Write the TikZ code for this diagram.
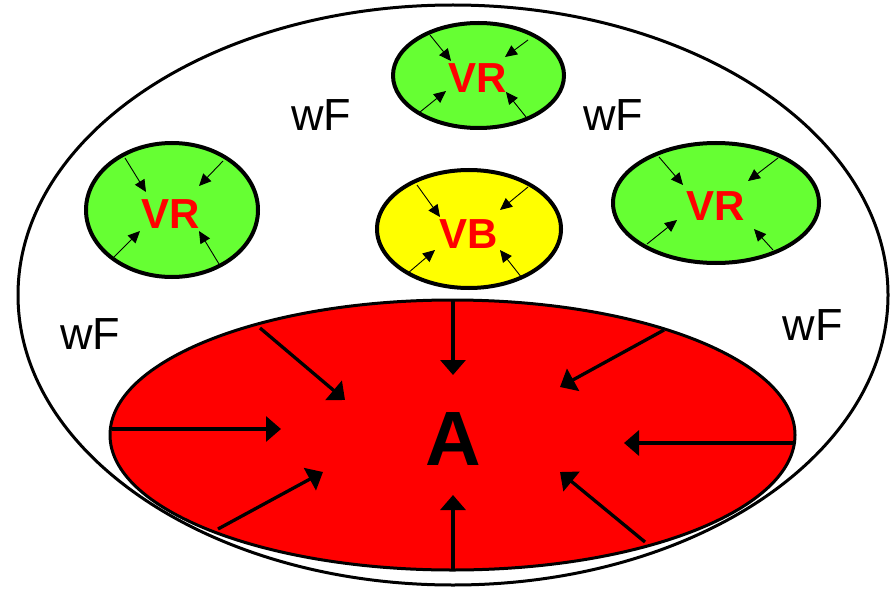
\documentclass[tikz,border=0pt]{standalone}
\usepackage{fontspec}
\setmainfont{Liberation Sans}
\usetikzlibrary{arrows.meta}
\definecolor{vrgreen}{HTML}{66FF33}
\definecolor{vbyellow}{HTML}{FFFF00}
\definecolor{aRed}{HTML}{FF0000}
\tikzset{
  bigarrow/.style={line width=3.3pt,-{Triangle[length=15pt,width=25pt]}},
  smallarrow/.style={line width=0.9pt,-{Triangle[length=12pt,width=11pt]}},
  lbl/.style={font=\fontsize{45}{54}\selectfont, anchor=base, inner sep=0pt},
  vrlbl/.style={font=\bfseries\fontsize{42}{50}\selectfont, text=aRed, anchor=base, inner sep=0pt},
  alb/.style={font=\bfseries\fontsize{77}{90}\selectfont, anchor=base, inner sep=0pt},
}
\begin{document}
\begin{tikzpicture}[x=1pt,y=-1pt]
\useasboundingbox (0,0) rectangle (890,588);
% outer
\draw[line width=3pt] (453,295) ellipse [x radius=435, y radius=290];
% red A
\filldraw[fill=aRed, line width=3pt] (452.5,435) ellipse [x radius=342.5, y radius=135];
% green VR ellipses
\filldraw[fill=vrgreen, line width=4pt] (478.5,75.5) ellipse [x radius=85.5, y radius=52.5];
\filldraw[fill=vrgreen, line width=4pt] (172,210) ellipse [x radius=86, y radius=67];
\filldraw[fill=vrgreen, line width=4pt] (716,203) ellipse [x radius=103, y radius=60];
% yellow VB
\filldraw[fill=vbyellow, line width=4pt] (469,229) ellipse [x radius=92, y radius=59];

% labels
\node[vrlbl] (vr1) at (478,93) {VR};
\node[vrlbl] (vr2) at (171,228) {VR};
\node[vrlbl] (vr3) at (716,220) {VR};
\node[vrlbl] (vb) at (469,248) {VB};
\node[alb] (a) at (453,465) {A};
\node[lbl] (w1) at (321,131) {wF};
\node[lbl] (w2) at (613,131) {wF};
\node[lbl] (w3) at (90.5,349) {wF};
\node[lbl] (w4) at (812.5,340) {wF};

% small arrows top VR
\draw[smallarrow] (430,35) -- (451,61);
\draw[smallarrow] (528,40) -- (505,57);
\draw[smallarrow] (420,112) -- (446,91);
\draw[smallarrow] (526,117) -- (506,92);
% left VR
\draw[smallarrow] (125,158) -- (146,192);
\draw[smallarrow] (223,161) -- (199,186);
\draw[smallarrow] (114,257) -- (140,231);
\draw[smallarrow] (219,264) -- (199,231);
% right VR
\draw[smallarrow] (659,157) -- (683,185);
\draw[smallarrow] (778,158) -- (748,181);
\draw[smallarrow] (647,244) -- (677,220);
\draw[smallarrow] (773,250) -- (754,229);
% VB
\draw[smallarrow] (417,185) -- (440,217);
\draw[smallarrow] (528,187) -- (500,210);
\draw[smallarrow] (408,273) -- (435,250);
\draw[smallarrow] (522,278) -- (500,250);

% big arrows in A
\draw[bigarrow] (453,301) -- (453,375);
\draw[bigarrow] (260,328) -- (345,400);
\draw[bigarrow] (112,429) -- (281,429);
\draw[bigarrow] (218,529) -- (323,472);
\draw[bigarrow] (453,569) -- (453,495);
\draw[bigarrow] (664,330) -- (560,387);
\draw[bigarrow] (793,443) -- (624,443);
\draw[bigarrow] (645,542) -- (560,472);
\end{tikzpicture}
\end{document}
